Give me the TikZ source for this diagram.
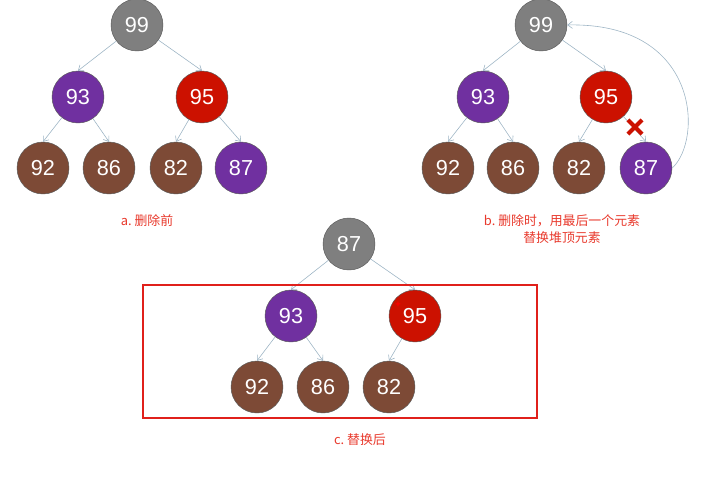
\documentclass[tikz,border=0pt]{standalone}
\usepackage{fontspec}
\setmainfont{Liberation Sans}
\newfontfamily\cjk{Noto Sans CJK SC}
\usetikzlibrary{arrows.meta,shapes.misc}
\definecolor{heapgray}{HTML}{7F7F7F}
\definecolor{heappurple}{HTML}{7030A0}
\definecolor{heapred}{HTML}{CC1100}
\definecolor{heapbrown}{HTML}{7D4A36}
\definecolor{edgeblue}{HTML}{9DB4C4}
\definecolor{labred}{HTML}{E8392C}
\definecolor{boxred}{HTML}{E0201B}

\begin{document}
\begin{tikzpicture}[x=.03cm,y=-.03cm,
  heapnode/.style={circle,draw=black!65,line width=.4pt,minimum size=1.56cm,inner sep=0pt,text=white,font=\fontsize{18.5}{18.5}\selectfont},
  link/.style={draw=edgeblue,line width=.5pt,-{Straight Barb[length=4pt,width=6pt]}},
  steplabel/.style={text=labred,font=\cjk\fontsize{11}{14.5}\selectfont,align=center}]
\useasboundingbox (0,0) rectangle (706,476);
% a. before
\foreach \v/\x/\y/\c in {99/137/25/heapgray,93/78/97/heappurple,95/202/97/heapred,92/43/168/heapbrown,86/109/168/heapbrown,82/176/168/heapbrown,87/241/168/heappurple}{\node[heapnode,fill=\c] (a\v) at (\x,\y){\v};}
\foreach \p/\q in {99/93,99/95,93/92,93/86,95/82,95/87}{\draw[link] (a\p) -- (a\q.north);}
\node[steplabel] (alab) at (147,221){a.\ 删除前};
% b. swap last with top
\foreach \v/\x/\y/\c in {99/541/25/heapgray,93/483/97/heappurple,95/606/97/heapred,92/448/168/heapbrown,86/513/168/heapbrown,82/579/168/heapbrown,87/646/168/heappurple}{\node[heapnode,fill=\c] (b\v) at (\x,\y){\v};}
\foreach \p/\q in {99/93,99/95,93/92,93/86,95/82,95/87}{\draw[link] (b\p) -- (b\q.north);}
\node[cross out,draw=heapred,line width=3.6pt,minimum size=.3cm,inner sep=0pt] (xmark) at (635,127){};
\draw[link] (b87.east) .. controls (703,140) and (700,22) .. (b99.east);
\node[steplabel] (blab) at (562,229){b.\ 删除时，用最后一个元素\\替换堆顶元素};
% c. after
\foreach \v/\x/\y/\c in {87/349/244/heapgray,93/291/316/heappurple,95/415/316/heapred,92/257/387/heapbrown,86/323/387/heapbrown,82/389/387/heapbrown}{\node[heapnode,fill=\c] (c\v) at (\x,\y){\v};}
\foreach \p/\q in {87/93,87/95,93/92,93/86,95/82}{\draw[link] (c\p) -- (c\q.north);}
\draw[boxred,line width=1.7pt] (143,285) rectangle (537,418);
\node[text=red,font=\bfseries\fontsize{8}{8}\selectfont,inner sep=0pt] (plus) at (398,305){+};
\node[steplabel] (clab) at (360,440){c.\ 替换后};
\end{tikzpicture}
\end{document}
